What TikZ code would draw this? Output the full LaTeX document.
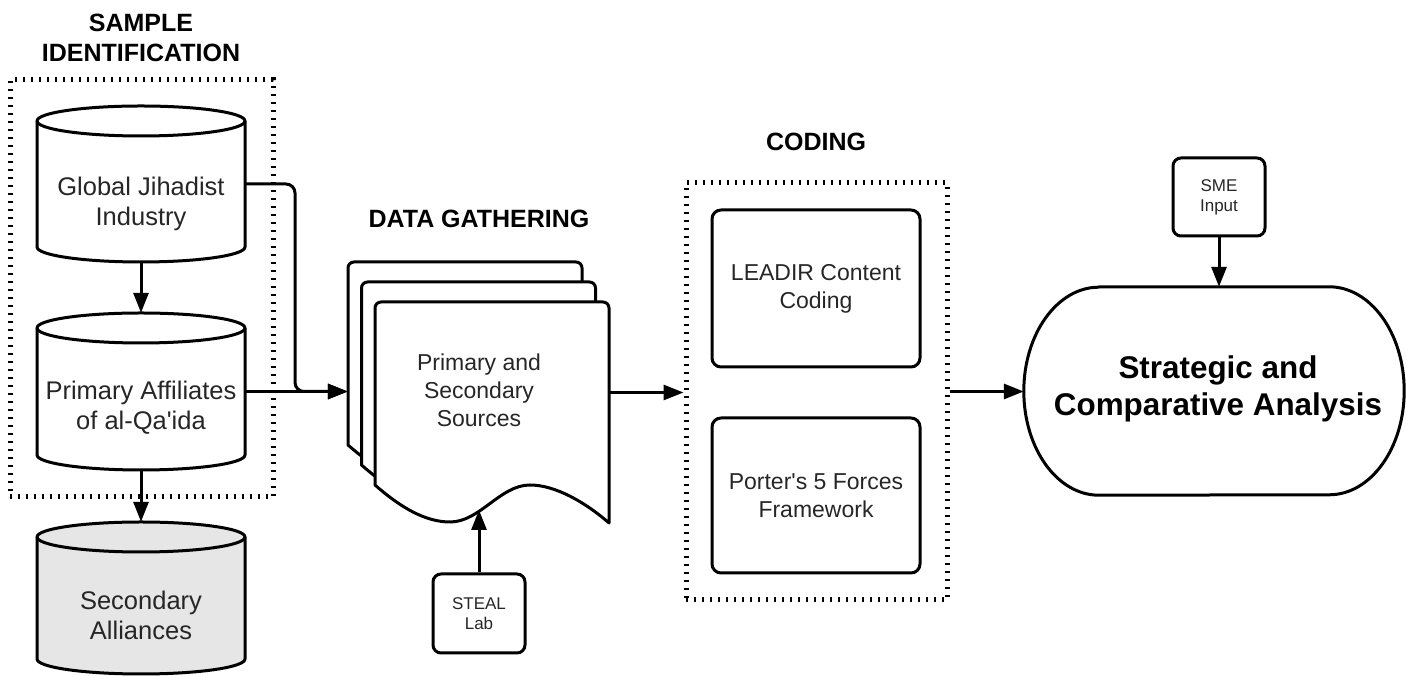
\documentclass[tikz,border=0pt]{standalone}
\usepackage{fontspec}
\setmainfont{Liberation Sans}
\usetikzlibrary{arrows.meta,calc}
\definecolor{bodytxt}{HTML}{262626}
\definecolor{cylgray}{HTML}{E6E6E6}
\newcommand\mycyl[4]{%
  \filldraw[ln, fill=#4] (#1,#2-15) -- (#1,#3+15)
    arc[start angle=180,end angle=360,x radius=104,y radius=15]
    -- (#1+208,#2-15)
    arc[start angle=0,end angle=180,x radius=104,y radius=15] -- cycle;
  \draw[ln] (#1,#2-15) arc[start angle=180,end angle=360,x radius=104,y radius=15];}
\newcommand\mydoc[2]{%
  \filldraw[ln, fill=white, shift={(#1,#2)}] (0,-183) -- (0,-6)
    arc[start angle=180,end angle=90,radius=6] -- (228,0)
    arc[start angle=90,end angle=0,radius=6] -- (234,-221)
    .. controls (210,-200) and (180,-183) .. (155,-183)
    .. controls (125,-183) and (105,-220) .. (75,-220)
    .. controls (50,-220) and (25,-205) .. (0,-183) -- cycle;}
\begin{document}
\begin{tikzpicture}[x=1pt,y=1pt,
  ln/.style={line width=3pt, draw=black, line join=round},
  arr/.style={line width=3pt, draw=black, -{Triangle[length=20pt,width=15pt]}},
  dotbox/.style={draw, line width=5pt, dash pattern=on 2.2pt off 5.8pt,
    minimum width=263pt, minimum height=417pt, inner sep=0pt},
  shapebox/.style={inner sep=0pt, minimum width=208pt},
  cyltext/.style={align=center, font=\fontsize{25.5}{30}\selectfont, text=bodytxt, inner sep=0pt},
  doctext/.style={align=center, font=\fontsize{23}{28}\selectfont, text=bodytxt, inner sep=0pt},
  codebox/.style={draw, line width=3pt, rounded corners=9pt, minimum width=208pt,
    minimum height=157pt, align=center, font=\fontsize{23}{28}\selectfont, text=bodytxt, inner sep=0pt},
  smallbox/.style={draw, line width=3pt, rounded corners=8pt, minimum width=92pt,
    minimum height=78pt, align=center, font=\fontsize{17}{20}\selectfont, text=bodytxt, inner sep=0pt},
  title/.style={align=center, font=\fontsize{25}{30}\selectfont\bfseries, text=black, inner sep=0pt}
]
\useasboundingbox (0,0) rectangle (1406,676);

% titles
\node[title] (t1) at (141,638) {SAMPLE\\IDENTIFICATION};
\node[title, anchor=base] (t2) at (479,448) {DATA GATHERING};
\node[title, anchor=base] (t3) at (816,525) {CODING};

% sample identification
\node[dotbox] (sample) at (141.5,387.5) {};
\node[shapebox, minimum height=156pt] (gji) at (141,492) {};
\mycyl{37}{570}{414}{white}
\node[cyltext] (gjit) at (141,472.5) {Global Jihadist\\Industry};
\node[shapebox, minimum height=157pt] (paf) at (141,284.5) {};
\mycyl{37}{363}{206}{white}
\node[cyltext] (paft) at (141,268) {Primary Affiliates\\of al-Qa\textquotesingle ida};
\node[shapebox, minimum height=152pt] (sec) at (141,78) {};
\mycyl{37}{154}{2}{cylgray}
\node[cyltext] (sect) at (141,60.5) {Secondary\\Alliances};

% data gathering
\node[inner sep=0pt, minimum width=261pt, minimum height=261pt] (stack) at (478.5,283.5) {};
\mydoc{348}{414}
\mydoc{361.5}{394}
\mydoc{375}{374}
\node[doctext] (stackt) at (479,286) {Primary and\\Secondary\\Sources};
\coordinate (wave) at (479,166);
\node[smallbox, minimum height=79pt] (steal) at (479,62.5) {STEAL\\Lab};

% coding
\node[dotbox, minimum width=261pt] (coding) at (816.5,284.5) {};
\node[codebox] (leadir) at (816,387.5) {LEADIR Content\\Coding};
\node[codebox, minimum height=155pt] (porter) at (816,180.5) {Porter\textquotesingle s 5 Forces\\Framework};

% analysis
\node[inner sep=0pt, minimum width=380pt, minimum height=208pt] (sca) at (1214,285) {};
\draw[ln] ($(sca.north west)+(75,0)$) -- ($(sca.north east)+(-75,0)$)
  arc[start angle=90,end angle=-90,x radius=75,y radius=104]
  -- ($(sca.south west)+(75,0)$)
  arc[start angle=270,end angle=90,x radius=75,y radius=104] -- cycle;
\node[align=center, inner sep=0pt, font=\fontsize{31.4}{37}\selectfont\bfseries, text=black]
  (scat) at (1218,287) {Strategic and\\Comparative Analysis};
\node[smallbox] (sme) at (1219,479) {SME\\Input};

% connectors
\coordinate (jn) at (295,284.5);
\draw[arr] (gji.south) -- (paf.north);
\draw[arr] (paf.south) -- (sec.north);
\draw[arr, rounded corners=9pt] (gji.east) -| (jn) -- (jn -| stack.west);
\draw[arr] (paf.east) -- (paf.east -| stack.west);
\draw[arr] (stack.east) -- (stack.east -| coding.west);
\draw[arr] (coding.east) -- (coding.east -| sca.west);
\draw[arr] (sme.south) -- (sme.south |- sca.north);
\draw[arr] (steal.north) -- (wave);
\end{tikzpicture}
\end{document}
